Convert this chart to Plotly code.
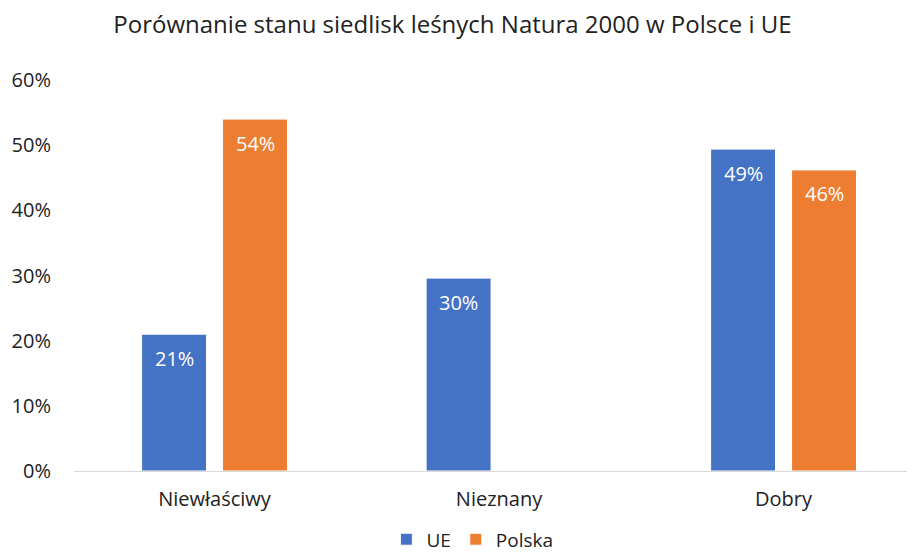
import plotly.graph_objects as go

categories = ["Niewłaściwy", "Nieznany", "Dobry"]
ue_values = [0.21, 0.296, 0.494]
pl_values = [0.54, None, 0.462]
y_ticks = [0, 0.1, 0.2, 0.3, 0.4, 0.5, 0.6]
y_tick_labels = ["0%", "10%", "20%", "30%", "40%", "50%", "60%"]

FONT = "Open Sans"
TXT = "#222222"
W, H = 907, 545
ML, MR, MT, MB = 66, 0, 72, 82
BARGAP = 0.431
BARGROUPGAP = 0.198
X_RANGE = [-0.494, 2.462]

fig = go.Figure()
fig.add_trace(go.Bar(
    name="UE", x=categories, y=ue_values,
    marker=dict(color="#4472C4", line=dict(color="white", width=1)),
))
fig.add_trace(go.Bar(
    name="Polska", x=categories, y=pl_values,
    marker=dict(color="#ED7D31", line=dict(color="white", width=1)),
))

# data labels placed at the top inside of each bar
px_per_cat = (W - ML - MR) / (X_RANGE[1] - X_RANGE[0])
slot = px_per_cat * (1 - BARGAP) / 2
for values, shift in ((ue_values, -slot / 2), (pl_values, slot / 2)):
    for cat, v in zip(categories, values):
        if v is None:
            continue
        fig.add_annotation(x=cat, y=v, text=f"{v:.0%}", showarrow=False,
                           xshift=shift, yshift=-24, yanchor="middle",
                           font=dict(color="white", size=20, family=FONT))

fig.update_layout(
    width=W, height=H,
    paper_bgcolor="white", plot_bgcolor="white",
    margin=dict(l=ML, r=MR, t=MT, b=MB),
    barmode="group", bargap=BARGAP, bargroupgap=BARGROUPGAP,
    font=dict(family=FONT, color=TXT),
    title=dict(text="Porównanie stanu siedlisk leśnych Natura 2000 w Polsce i UE",
               x=0.49, xanchor="center", y=0.969, yanchor="middle",
               yref="container", automargin=False,
               font=dict(size=24, family=FONT, color=TXT)),
    xaxis=dict(range=X_RANGE, showgrid=False, showline=True,
               linecolor="#d9d9d9", linewidth=1, ticks="", automargin=False,
               tickfont=dict(size=20, color=TXT), ticklabelstandoff=10),
    yaxis=dict(range=[0, 0.6], tickvals=y_ticks, ticktext=y_tick_labels,
               showgrid=False, zeroline=False, showline=False, ticks="",
               automargin=False,
               tickfont=dict(size=20, color=TXT), ticklabelstandoff=22),
    legend=dict(orientation="h", x=0.512, xanchor="center", xref="container",
                y=0.025, yanchor="middle", yref="container",
                font=dict(size=19, color=TXT), itemwidth=30,
                tracegroupgap=0),
)

fig.write_html("out.html")
